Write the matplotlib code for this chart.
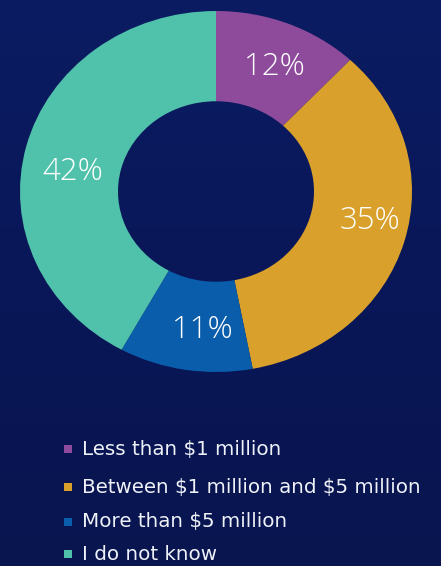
import numpy as np
import matplotlib
matplotlib.use("Agg")
import matplotlib.pyplot as plt
from matplotlib.patches import Rectangle

# data
categories = ["Less than $1 million", "Between $1 million and $5 million",
              "More than $5 million", "I do not know"]
shares = [12, 35, 11, 42]
colors = ["#8E4B9C", "#D9A12B", "#0A5DAB", "#50C1AA"]

W, H = 441, 566
fig = plt.figure(figsize=(W / 100, H / 100), dpi=100)

# dark navy background with a faint vertical gradient
bg = fig.add_axes([0, 0, 1, 1])
grad = np.linspace(0, 1, 256).reshape(-1, 1)
cmap = matplotlib.colors.LinearSegmentedColormap.from_list("bg", ["#0B1C62", "#091758", "#09154F"])
bg.imshow(grad, aspect="auto", cmap=cmap, extent=[0, 1, 0, 1])
bg.axis("off")

# donut axes in pixel box (slightly wider than tall like the original)
left, right, top, bottom = 20, 412, 11, 372
ax = fig.add_axes([left / W, 1 - bottom / H, (right - left) / W, (bottom - top) / H])
wedges, _ = ax.pie(shares, colors=colors, startangle=90, counterclock=False,
                   radius=1, wedgeprops=dict(width=0.5, edgecolor="none"))

# percent labels, nudged a little like in the original
label_r = [0.75, 0.80, 0.77, 0.74]
label_shift = [-2, 4.5, 4, 6]
for w, v, r, s in zip(wedges, shares, label_r, label_shift):
    ang = np.deg2rad((w.theta1 + w.theta2) / 2 + s)
    ax.text(r * np.cos(ang), r * np.sin(ang) + 0.022, f"{v}%", color="white", fontsize=22.5,
            fontfamily="Open Sans", fontweight="light", ha="center", va="center_baseline")
ax.set_aspect("auto")
ax.set_xlim(-1, 1)
ax.set_ylim(-1, 1)
ax.axis("off")

# legend rows
rows_y = [449, 487, 522, 554]
for lab, col, y in zip(categories, colors, rows_y):
    fig.patches.append(Rectangle((64 / W, 1 - (y + 4) / H), 8 / W, 8 / H,
                                 transform=fig.transFigure, facecolor=col, edgecolor="none"))
    fig.text(82 / W, 1 - y / H, lab.replace("$", r"\$"), color="#EEF1F7", fontsize=14.3,
             fontfamily="DejaVu Sans", va="center", ha="left")

fig.savefig("out.png", dpi=100)
